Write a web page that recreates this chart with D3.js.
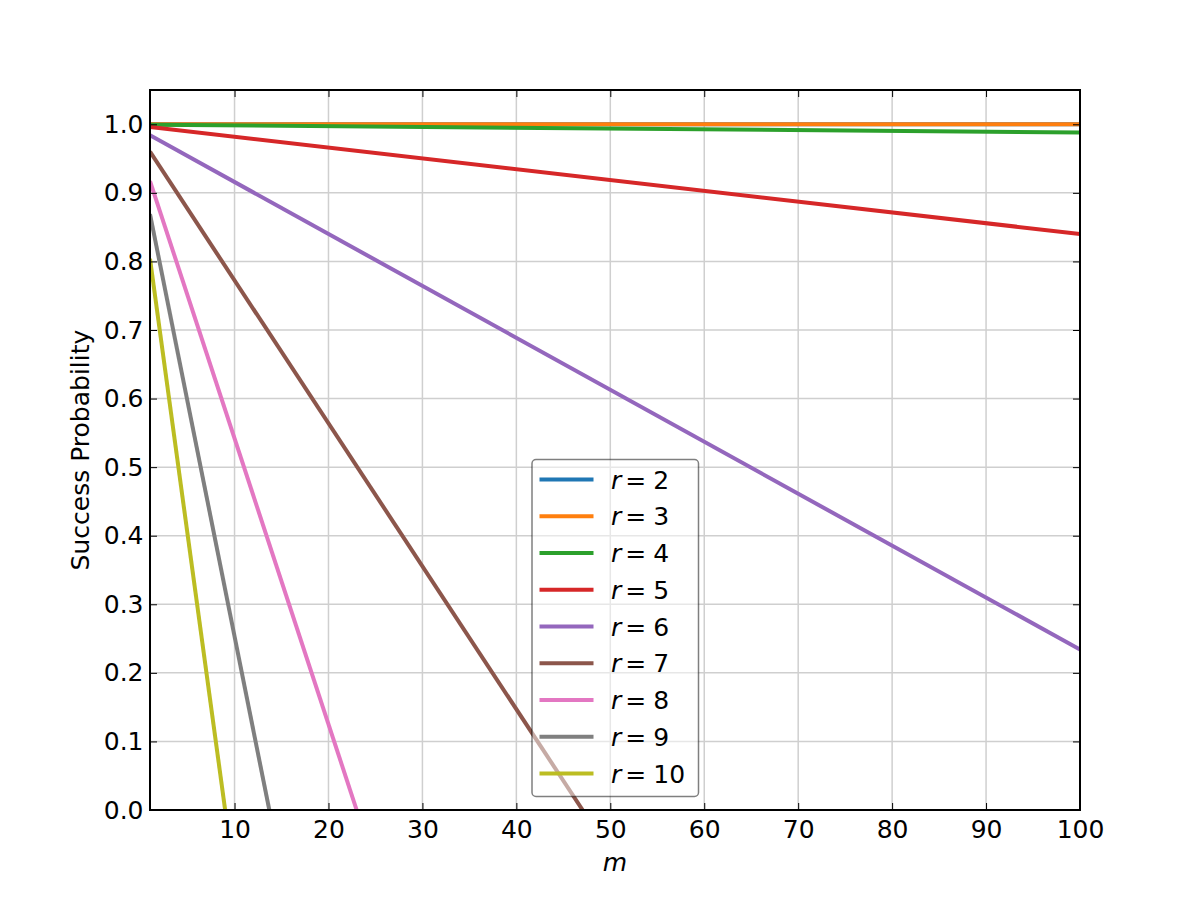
<!DOCTYPE html>
<html>
<head>
<meta charset="utf-8">
<script src="https://cdn.jsdelivr.net/npm/d3@7"></script>
<style>
  html, body { margin: 0; padding: 0; background: #ffffff; }
  svg { display: block; }
  text { font-family: "DejaVu Sans", sans-serif; fill: #000; }
</style>
</head>
<body>
<svg id="chart" width="1200" height="900"></svg>
<script>
// ---- data ----
const rValues = [2, 3, 4, 5, 6, 7, 8, 9, 10];
const seriesColors = ["#1f77b4", "#ff7f0e", "#2ca02c", "#d62728", "#9467bd",
                      "#8c564b", "#e377c2", "#7f7f7f", "#bcbd22"];
// m at the two ends of each (straight) line, and success probability there
const seriesM = [
  [1, 100], [1, 100], [1, 100], [1, 100], [1, 100],
  [1, 47.05], [1, 23.0], [1, 13.7], [1, 9.0]
];
const seriesP = [
  [1.0, 1.0], [1.0, 1.0], [0.9995, 0.988], [0.996, 0.840], [0.984, 0.234],
  [0.960, 0.0], [0.917, 0.0], [0.869, 0.0], [0.804, 0.0]
];
const xTicks = [10, 20, 30, 40, 50, 60, 70, 80, 90, 100];
const yTicks = [0.0, 0.1, 0.2, 0.3, 0.4, 0.5, 0.6, 0.7, 0.8, 0.9, 1.0];
const xLabel = "m";
const yLabel = "Success Probability";

// ---- layout ----
const svg = d3.select("#chart");
const L = 150, R = 1080, T = 90, B = 810;
const x = d3.scaleLinear().domain([1, 100]).range([L, R]);
const y = d3.scaleLinear().domain([0, 1.05]).range([B, T]);
const FS = 25;

// grid
const grid = svg.append("g");
grid.selectAll("line.gx").data(xTicks).join("line")
  .attr("x1", d => x(d)).attr("x2", d => x(d)).attr("y1", T).attr("y2", B)
  .attr("stroke", "#cfcfcf").attr("stroke-width", 1.5);
grid.selectAll("line.gy").data(yTicks).join("line")
  .attr("y1", d => y(d)).attr("y2", d => y(d)).attr("x1", L).attr("x2", R)
  .attr("stroke", "#cfcfcf").attr("stroke-width", 1.5);

// clip
svg.append("clipPath").attr("id", "plotclip").append("rect")
  .attr("x", L).attr("y", T).attr("width", R - L).attr("height", B - T);

const line = d3.line().x(d => x(d[0])).y(d => y(d[1]));
const lines = svg.append("g").attr("clip-path", "url(#plotclip)");
rValues.forEach((r, i) => {
  const pts = seriesM[i].map((m, j) => [m, seriesP[i][j]]);
  lines.append("path").datum(pts)
    .attr("d", line)
    .attr("fill", "none")
    .attr("stroke", seriesColors[i])
    .attr("stroke-width", 4);
});

// axes with inside ticks on all four sides
const tickLen = 7;
const fmtY = d3.format(".1f");
const axB = svg.append("g").attr("transform", `translate(0,${B})`)
  .call(d3.axisBottom(x).tickValues(xTicks).tickSizeInner(-tickLen).tickSizeOuter(0).tickPadding(10));
const axT = svg.append("g").attr("transform", `translate(0,${T})`)
  .call(d3.axisTop(x).tickValues(xTicks).tickSizeInner(-tickLen).tickSizeOuter(0).tickFormat(""));
const axLft = svg.append("g").attr("transform", `translate(${L},0)`)
  .call(d3.axisLeft(y).tickValues(yTicks).tickFormat(fmtY).tickSizeInner(-tickLen).tickSizeOuter(0).tickPadding(6.5));
const axRt = svg.append("g").attr("transform", `translate(${R},0)`)
  .call(d3.axisRight(y).tickValues(yTicks).tickSizeInner(-tickLen).tickSizeOuter(0).tickFormat(""));
[axB, axT, axLft, axRt].forEach(a => {
  a.select(".domain").remove();
  a.selectAll(".tick line").attr("stroke", "#000").attr("stroke-width", 1);
  a.selectAll(".tick text").attr("font-family", "DejaVu Sans").attr("font-size", FS).attr("fill", "#000");
});

// frame
svg.append("rect").attr("x", L).attr("y", T).attr("width", R - L).attr("height", B - T)
  .attr("fill", "none").attr("stroke", "#000").attr("stroke-width", 2);

// axis labels
svg.append("text").attr("x", (L + R) / 2).attr("y", 871)
  .attr("text-anchor", "middle").attr("font-size", FS).attr("font-style", "italic")
  .text(xLabel);
svg.append("text").attr("transform", `translate(89,${(T + B) / 2}) rotate(-90)`)
  .attr("text-anchor", "middle").attr("font-size", FS)
  .text(yLabel);

// legend
const lg = svg.append("g");
const lgX = 532, lgY = 459.5, lgW = 166.5, lgH = 337;
lg.append("rect").attr("x", lgX).attr("y", lgY).attr("width", lgW).attr("height", lgH)
  .attr("rx", 4).attr("ry", 4)
  .attr("fill", "#ffffff").attr("fill-opacity", 0.5)
  .attr("stroke", "#000").attr("stroke-opacity", 0.5).attr("stroke-width", 1.5);
const rowY = d3.scaleLinear().domain([0, 8]).range([479.5, 773.5]);
rValues.forEach((r, i) => {
  const yy = rowY(i);
  lg.append("line").attr("x1", 539.5).attr("x2", 593.5).attr("y1", yy).attr("y2", yy)
    .attr("stroke", seriesColors[i]).attr("stroke-width", 4);
  const t = lg.append("text").attr("x", 611).attr("y", yy + 9).attr("font-size", FS);
  t.append("tspan").attr("font-style", "italic").text("r");
  t.append("tspan").attr("dx", 4).text("=");
  t.append("tspan").attr("dx", 7).text(String(r));
});
</script>
</body>
</html>
